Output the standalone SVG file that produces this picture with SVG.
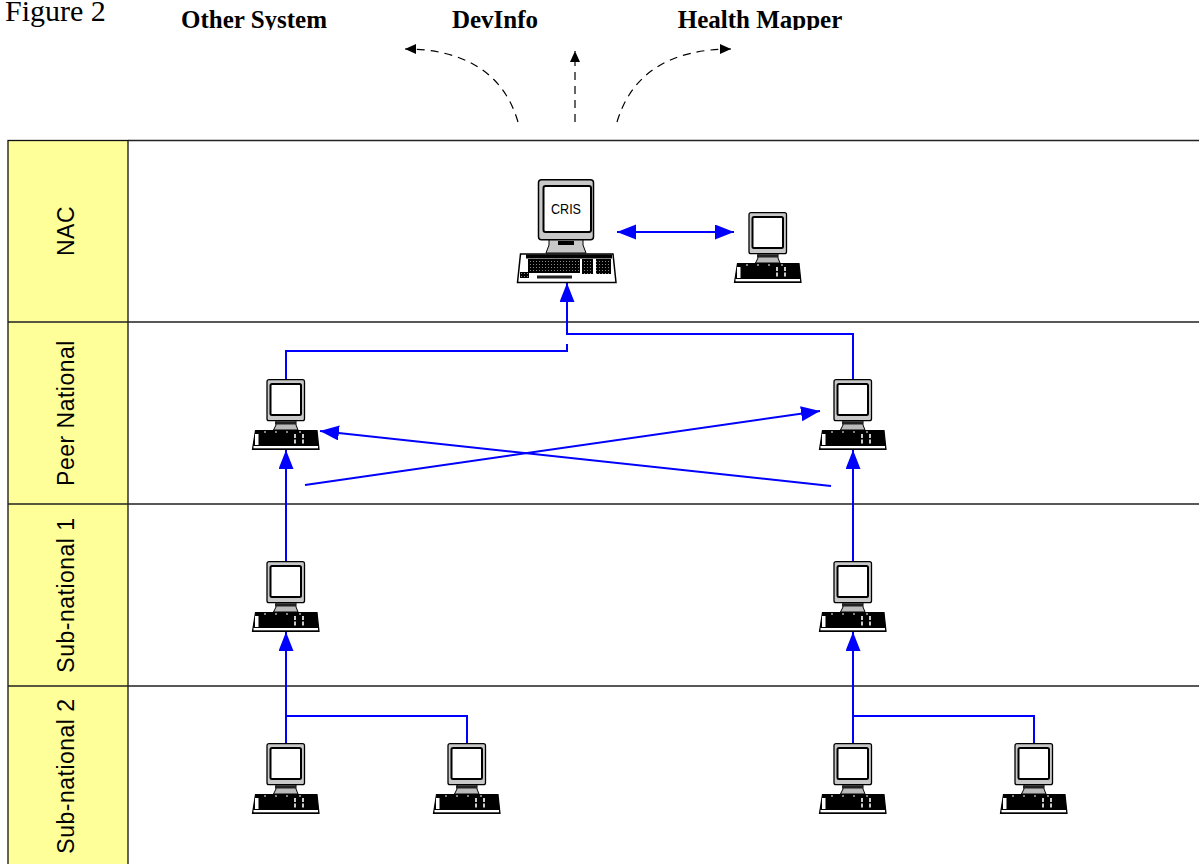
<svg xmlns="http://www.w3.org/2000/svg" width="1199" height="864" viewBox="0 0 1199 864">
<style>
.lane{stroke:#222;stroke-width:1.3;fill:none}
.hd{fill:#ffff99;stroke:#111;stroke-width:1.3}
.lbl{font:23px "Liberation Sans",Arial,sans-serif;fill:#000;text-anchor:middle;letter-spacing:.5px}
.top{font:bold 25px "Liberation Serif","Times New Roman",serif;fill:#000;text-anchor:middle}
.c{fill:none;stroke:#0000ff;stroke-width:2}
.d{fill:none;stroke:#000;stroke-width:1.2;stroke-dasharray:8 6}
</style>
<defs>
<clipPath id="cap"><rect x="0" y="0" width="1199" height="30"/></clipPath>
<marker id="a" markerUnits="userSpaceOnUse" markerWidth="21" markerHeight="16" refX="19" refY="7.500" orient="auto-start-reverse"><path d="M0 0L19 7.500L0 15Z" fill="#0000ff"/></marker>
<marker id="k" markerUnits="userSpaceOnUse" markerWidth="12" markerHeight="12" refX="11" refY="5" orient="auto"><path d="M0 0L11 5L0 10Z" fill="#000"/></marker>
<pattern id="dith" width="3" height="3" patternUnits="userSpaceOnUse"><rect width="3" height="3" fill="#000"/><rect x="1" y="1" width="1" height="1" fill="#888"/></pattern>
<symbol id="pc" viewBox="0 0 68 72" overflow="visible">
<rect x="15" y="0.700" width="37.500" height="41" rx="2" fill="#c8c8c8" stroke="#000" stroke-width="1.300"/>
<rect x="18.500" y="5" width="30.500" height="31" rx="1.500" fill="#fff" stroke="#000" stroke-width="2"/>
<path d="M24 42H44V46L46 51H21.500L24 46Z" fill="#bbb" stroke="#000"/>
<rect x="23" y="42.500" width="21" height="3" fill="#222"/>
<path d="M3.500 51.500H65L67 70.500H0.500Z" fill="#000" stroke="#000" stroke-width="1.200"/>
<rect x="3" y="55" width="3.500" height="11" fill="#fff"/>
<rect x="1.500" y="67" width="64.500" height="2.300" fill="#fff"/>
<path d="M12 53H14M23 53H25M34 53H36M47 53H49" stroke="#fff" stroke-width="1"/>
<path d="M43 55V66M51 55V66" stroke="#fff" stroke-width="1.600" stroke-dasharray="4 1.500"/>
</symbol>
<symbol id="pcb" viewBox="0 0 100 104" overflow="visible">
<rect x="21.500" y="0.700" width="55" height="60" rx="3" fill="#c8c8c8" stroke="#000" stroke-width="1.500"/>
<rect x="26.500" y="7" width="47.500" height="46" rx="2" fill="#fff" stroke="#000" stroke-width="2"/>
<path d="M32 61H66V66L69 74H29L32 66Z" fill="#c8c8c8" stroke="#000"/>
<rect x="41" y="62" width="16" height="4" fill="#000"/>
<path d="M3.500 75H96L99 103.500H0.500Z" fill="#fff" stroke="#000" stroke-width="1.500"/>
<rect x="9" y="75.500" width="86" height="4" fill="#000"/>
<rect x="11" y="80" width="52" height="14" fill="url(#dith)"/>
<rect x="65" y="80" width="11" height="15" fill="url(#dith)"/>
<rect x="79" y="80" width="15" height="15" fill="url(#dith)"/>
<rect x="3" y="93" width="9" height="6" fill="url(#dith)"/>
<rect x="20" y="96.500" width="35" height="3" fill="#222"/>
</symbol>
</defs>
<rect width="1199" height="864" fill="#fff"/>
<g id="lanes">
<rect class="hd" x="8" y="140.500" width="120" height="730"/>
<path class="lane" d="M128 140.500H1199M8 322H1199M8 504H1199M8 686H1199"/>
</g>
<g id="labels">
<text class="lbl" transform="translate(73.500 231) rotate(-90)">NAC</text>
<text class="lbl" transform="translate(73.500 413) rotate(-90)">Peer National</text>
<text class="lbl" transform="translate(73.500 595) rotate(-90)">Sub-national 1</text>
<text class="lbl" transform="translate(73.500 776) rotate(-90)">Sub-national 2</text>
</g>
<g id="captions">
<text x="5" y="21" font-family="Liberation Serif,serif" font-size="30">Figure 2</text>
<g clip-path="url(#cap)">
<text class="top" x="254" y="28">Other System</text>
<text class="top" x="495" y="28">DevInfo</text>
<text class="top" x="760" y="28">Health Mapper</text>
</g>
</g>
<g id="connectors">
<path class="d" d="M518 122C503 70 460 49 405 49" marker-end="url(#k)"/>
<path class="d" d="M575 122V51" marker-end="url(#k)"/>
<path class="d" d="M617 122C632 72 672 49 731 49" marker-end="url(#k)"/>
<path class="c" d="M617 232H734" marker-start="url(#a)" marker-end="url(#a)"/>
<path class="c" d="M853 379V334H567V283" marker-end="url(#a)"/>
<path class="c" d="M286 379V351H567V344"/>
<path class="c" d="M305 485L820 411" marker-end="url(#a)"/>
<path class="c" d="M831 486L320 431" marker-end="url(#a)"/>
<path class="c" d="M286 561V450" marker-end="url(#a)"/>
<path class="c" d="M853 561V450" marker-end="url(#a)"/>
<path class="c" d="M286 743V632" marker-end="url(#a)"/>
<path class="c" d="M853 743V632" marker-end="url(#a)"/>
<path class="c" d="M467 743V716H286"/>
<path class="c" d="M1034 743V716H853"/>
</g>
<g id="cris"><use href="#pcb" x="517" y="179" width="100" height="104"/><text x="566" y="214" font-family="Liberation Sans,sans-serif" font-size="14" text-anchor="middle" textLength="30" lengthAdjust="spacingAndGlyphs">CRIS</text></g>
<g id="nac2"><use href="#pc" x="734" y="212" width="68" height="72"/></g>
<g id="peer1"><use href="#pc" x="252" y="379" width="68" height="72"/></g>
<g id="peer2"><use href="#pc" x="819" y="379" width="68" height="72"/></g>
<g id="sub1a"><use href="#pc" x="252" y="561" width="68" height="72"/></g>
<g id="sub1b"><use href="#pc" x="819" y="561" width="68" height="72"/></g>
<g id="sub2a"><use href="#pc" x="252" y="743" width="68" height="72"/></g>
<g id="sub2b"><use href="#pc" x="433" y="743" width="68" height="72"/></g>
<g id="sub2c"><use href="#pc" x="819" y="743" width="68" height="72"/></g>
<g id="sub2d"><use href="#pc" x="1000" y="743" width="68" height="72"/></g>
</svg>
